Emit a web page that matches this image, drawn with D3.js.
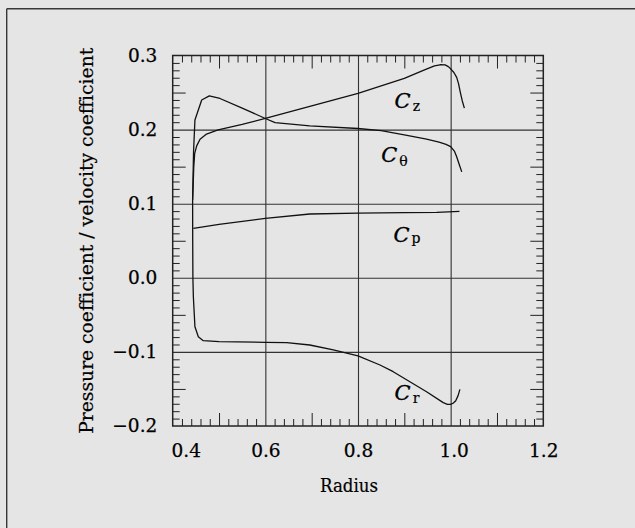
<!DOCTYPE html>
<html>
<head>
<meta charset="utf-8">
<script src="https://cdn.jsdelivr.net/npm/d3@7"></script>
<style>
  html, body { margin: 0; padding: 0; background: #e5e5e5; }
  svg { display: block; }
</style>
</head>
<body>
<svg id="chart" width="635" height="528"></svg>
<script>
// ---------- data ----------
const xTickValues = [0.4, 0.6, 0.8, 1.0, 1.2];
const yTickValues = [-0.2, -0.1, 0.0, 0.1, 0.2, 0.3];
const xTickLabels = ["0.4", "0.6", "0.8", "1.0", "1.2"];
const yTickLabels = ["\u22120.2", "\u22120.1", "0.0", "0.1", "0.2", "0.3"];

const seriesNames = ["z", "\u03b8", "p", "r"];

const czPoints = [[0.443,0.105],[0.4455,0.150],[0.4475,0.168],[0.4518,0.178],[0.459,0.187],[0.473,0.194],[0.498,0.1995],[0.55,0.207],[0.6,0.215],[0.7,0.232],[0.8,0.249],[0.9,0.269],[0.941,0.280],[0.965,0.286],[0.977,0.2875],[0.988,0.2873],[0.995,0.285],[1.0,0.282],[1.007,0.277],[1.013,0.2705],[1.017,0.262],[1.021,0.250],[1.025,0.239],[1.0296,0.229]];
const cthetaPoints = [[0.443,0.105],[0.445,0.170],[0.448,0.213],[0.4626,0.240],[0.479,0.2455],[0.502,0.242],[0.55,0.229],[0.6,0.215],[0.621,0.2095],[0.696,0.205],[0.8,0.2015],[0.85,0.1985],[0.9,0.193],[0.948,0.187],[0.975,0.183],[0.99,0.180],[1.0,0.177],[1.008,0.171],[1.013,0.1634],[1.018,0.154],[1.024,0.143]];
const cpPoints = [[0.4446,0.0668],[0.5,0.0720],[0.6,0.0803],[0.696,0.0861],[0.8,0.0874],[0.9,0.0880],[0.97,0.0884],[1.019,0.0897]];
const crPoints = [[0.443,0.105],[0.4432,0.05],[0.4436,0.0],[0.4446,-0.0255],[0.448,-0.066],[0.4553,-0.0795],[0.466,-0.0849],[0.5,-0.086],[0.6,-0.0871],[0.646,-0.0876],[0.696,-0.0907],[0.7467,-0.0974],[0.8,-0.1055],[0.8475,-0.1177],[0.876,-0.1267],[0.948,-0.1537],[0.984,-0.1685],[0.993,-0.1707],[1.0,-0.1707],[1.006,-0.169],[1.011,-0.1659],[1.016,-0.159],[1.02,-0.1505]];

const xTitle = "Radius";
const yTitle = "Pressure coefficient / velocity coefficient";

// ---------- layout ----------
const FONT = "'DejaVu Serif', 'Liberation Serif', serif";
const INK = "#000";
const L = 172.7, R = 543.3, T = 55.5, B = 426;
const svg = d3.select("#chart");

const x = d3.scaleLinear().domain([0.4, 1.2]).range([L, R]);
const y = d3.scaleLinear().domain([-0.2, 0.3]).range([B, T]);

// outer frame (top & left edges visible)
svg.append("line").attr("x1", 6.7).attr("x2", 635).attr("y1", 8.7).attr("y2", 8.7)
  .attr("stroke", "#383838").attr("stroke-width", 1.4);
svg.append("line").attr("x1", 6.7).attr("x2", 6.7).attr("y1", 8.7).attr("y2", 528)
  .attr("stroke", "#383838").attr("stroke-width", 1.4);

// gridlines
const gridX = xTickValues.filter(v => v > 0.41 && v < 1.19);
const gridY = yTickValues.filter(v => v > -0.19 && v < 0.29);
svg.append("g").attr("transform", `translate(0,${B})`)
  .call(d3.axisBottom(x).tickValues(gridX).tickSize(-(B - T)).tickFormat(""))
  .call(g => g.select(".domain").remove())
  .call(g => g.selectAll("line").attr("stroke", "#333").attr("stroke-width", 1.1));
svg.append("g").attr("transform", `translate(${L},0)`)
  .call(d3.axisLeft(y).tickValues(gridY).tickSize(-(R - L)).tickFormat(""))
  .call(g => g.select(".domain").remove())
  .call(g => g.selectAll("line").attr("stroke", "#333").attr("stroke-width", 1.1));

// minor ticks
const xMinor = d3.range(0, 41).map(i => 0.4 + i * 0.02).filter(v => Math.abs(Math.round(v * 10) - v * 10) > 1e-6);
const xMid = [0.5, 0.7, 0.9, 1.1];
const yMinor = d3.range(0, 51).map(i => -0.2 + i * 0.01).filter(v => Math.abs(Math.round(v * 20) - v * 20) > 1e-6);
const yMid = [-0.15, -0.05, 0.05, 0.15, 0.25];

function tickAxis(axisFn, scale, vals, len, tx, ty) {
  svg.append("g").attr("transform", `translate(${tx},${ty})`)
    .call(axisFn(scale).tickValues(vals).tickSize(-len).tickFormat(""))
    .call(g => g.select(".domain").remove())
    .call(g => g.selectAll("line").attr("stroke", "#222").attr("stroke-width", 1));
}
tickAxis(d3.axisBottom, x, xMinor, 7, 0, B);
tickAxis(d3.axisBottom, x, xMid, 13, 0, B);
tickAxis(d3.axisTop, x, xMinor, 7, 0, T);
tickAxis(d3.axisTop, x, xMid, 13, 0, T);
tickAxis(d3.axisLeft, y, yMinor, 7, L, 0);
tickAxis(d3.axisLeft, y, yMid, 13, L, 0);
tickAxis(d3.axisRight, y, yMinor, 7, R, 0);
tickAxis(d3.axisRight, y, yMid, 13, R, 0);

// plot frame
svg.append("rect").attr("x", L).attr("y", T).attr("width", R - L).attr("height", B - T)
  .attr("fill", "none").attr("stroke", "#222").attr("stroke-width", 1.5);

// tick labels
svg.append("g").attr("transform", `translate(0,${B})`)
  .call(d3.axisBottom(x).tickValues(xTickValues).tickSize(0).tickPadding(18)
        .tickFormat((d, i) => xTickLabels[i]))
  .call(g => g.select(".domain").remove())
  .call(g => g.selectAll("text").attr("font-family", FONT).attr("font-size", 18.5).attr("fill", INK)
        .attr("stroke", INK).attr("stroke-width", 0.25)
        .attr("dx", (d, i) => i === 0 ? 13 : (i === 3 ? 3 : 0)));
svg.append("g").attr("transform", `translate(${L},0)`)
  .call(d3.axisLeft(y).tickValues(yTickValues).tickSize(0).tickPadding(15.4)
        .tickFormat((d, i) => yTickLabels[i]))
  .call(g => g.select(".domain").remove())
  .call(g => g.selectAll("text").attr("font-family", FONT).attr("font-size", 18.5).attr("fill", INK)
        .attr("stroke", INK).attr("stroke-width", 0.25));

// axis titles
svg.append("text").attr("x", 349).attr("y", 492).attr("text-anchor", "middle")
  .attr("font-family", FONT).attr("font-size", 18.5).attr("fill", INK)
  .attr("stroke", INK).attr("stroke-width", 0.2)
  .attr("textLength", 58).attr("lengthAdjust", "spacingAndGlyphs").text(xTitle);
svg.append("text").attr("transform", `translate(93,${(T + B) / 2}) rotate(-90)`)
  .attr("text-anchor", "middle").attr("font-family", FONT).attr("font-size", 18.5)
  .attr("fill", INK).attr("stroke", INK).attr("stroke-width", 0.2)
  .attr("textLength", 386).attr("lengthAdjust", "spacingAndGlyphs").text(yTitle);

// curves
const line = d3.line().x(d => x(d[0])).y(d => y(d[1])).curve(d3.curveLinear);
[czPoints, cthetaPoints, cpPoints, crPoints].forEach(pts => {
  svg.append("path").datum(pts).attr("d", line)
    .attr("fill", "none").attr("stroke", "#111").attr("stroke-width", 1.3)
    .attr("stroke-linejoin", "round");
});

// curve labels (anchored in data units)
const labelAnchors = [[0.879, 0.2291, 2.5], [0.850, 0.1567, 4], [0.8765, 0.0483, 1], [0.879, -0.1653, 3]];
seriesNames.forEach((name, i) => {
  const [r, v, dy] = labelAnchors[i];
  const t = svg.append("text").attr("x", x(r)).attr("y", y(v))
    .attr("font-family", FONT).attr("fill", INK);
  t.append("tspan").attr("font-size", 21).attr("font-style", "italic")
    .attr("stroke", INK).attr("stroke-width", 0.35).text("C");
  t.append("tspan").attr("font-size", 14).attr("dx", 2).attr("dy", dy)
    .attr("stroke", INK).attr("stroke-width", 0.2).text(name);
});
</script>
</body>
</html>
